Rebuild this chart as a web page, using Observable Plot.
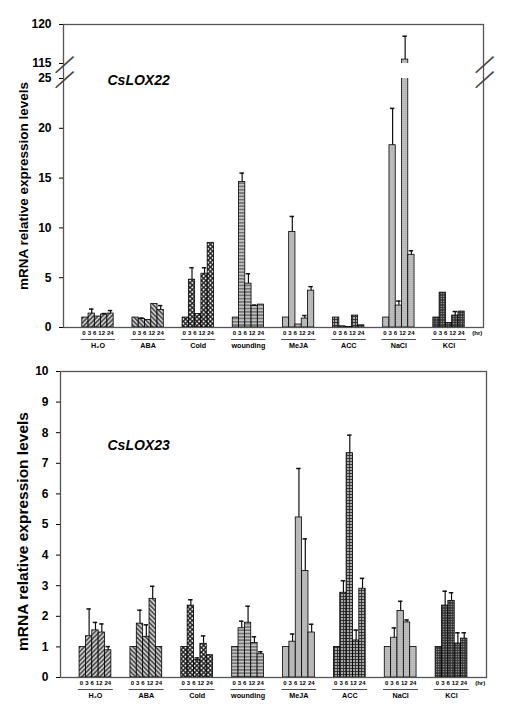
<!DOCTYPE html>
<html><head><meta charset="utf-8">
<script src="https://cdn.jsdelivr.net/npm/d3@7"></script>
<script src="https://cdn.jsdelivr.net/npm/@observablehq/plot@0.6"></script>
<style>
body{margin:0;background:#fff;font-family:"Liberation Sans",Arial,sans-serif;}
#chart svg{display:block}
</style></head><body><div id="chart"></div>
<script>
const treatments = ["H₂O","ABA","Cold","wounding","MeJA","ACC","NaCl","KCl"];
const times = ["0","3","6","12","24"];
const timeUnit = "(hr)";
const yLabel = "mRNA relative expression levels";

// CsLOX22 (means and upper SD) per treatment x time
const lox22Mean = [
  [1.0, 1.4, 1.1, 1.3, 1.4],
  [1.0, 0.85, 0.75, 2.35, 1.75],
  [1.0, 4.8, 1.35, 5.4, 8.5],
  [1.0, 14.6, 4.4, 2.15, 2.3],
  [1.0, 9.6, 0.3, 0.9, 3.7],
  [1.0, 0.12, 0.05, 1.2, 0.22],
  [1.0, 18.3, 2.2, 115.5, 7.3],
  [1.0, 3.5, 0.45, 1.2, 1.6]
];
const lox22Err = [
  [0, 0.45, 0, 0.1, 0.3],
  [0, 0.1, 0, 0, 0.45],
  [0, 1.2, 0, 0.6, 0],
  [0, 0.9, 1.0, 0.1, 0],
  [0, 1.55, 0, 0.3, 0.4],
  [0, 0, 0, 0, 0],
  [0, 3.7, 0.45, 3.0, 0.4],
  [0, 0, 0, 0.4, 0]
];
const lox22Ticks = [0, 5, 10, 15, 20, 25, 115, 120];
const lox22Breaks = [25, 115];

// CsLOX23
const lox23Mean = [
  [1.0, 1.35, 1.54, 1.47, 0.89],
  [1.0, 1.76, 1.33, 2.57, 1.0],
  [1.0, 2.35, 0.57, 1.1, 0.73],
  [1.0, 1.61, 1.79, 1.13, 0.76],
  [1.0, 1.17, 5.23, 3.48, 1.47],
  [1.0, 2.77, 7.33, 1.21, 2.9],
  [1.0, 1.3, 2.17, 1.8, 1.0],
  [1.0, 2.35, 2.5, 1.11, 1.27]
];
const lox23Err = [
  [0, 0.89, 0.26, 0.28, 0.12],
  [0, 0.44, 0.39, 0.41, 0],
  [0, 0.19, 0.07, 0.26, 0],
  [0, 0.23, 0.54, 0.2, 0.08],
  [0, 0.25, 1.6, 1.05, 0.27],
  [0, 0.39, 0.59, 0.34, 0.34],
  [0, 0.32, 0.32, 0.08, 0],
  [0, 0.47, 0.27, 0.35, 0.19]
];
const lox23Ticks = [0,1,2,3,4,5,6,7,8,9,10];

const STEP = 8; // 5 bars + gap (in bar units)
const FONT = "Liberation Sans, Arial, sans-serif";
const TIME_FS = 6;

function addPatterns(svg, pre) {
  const defs = d3.select(svg).insert("defs", ":first-child");
  const mk = (i, w, h, bg, draw, tr) => {
    const p = defs.append("pattern").attr("id", pre + i)
      .attr("patternUnits", "userSpaceOnUse").attr("width", w).attr("height", h);
    if (tr) p.attr("patternTransform", tr);
    p.append("rect").attr("width", w).attr("height", h).attr("fill", bg);
    if (draw) draw(p, w, h);
  };
  const vline = (p, w, h, c, sw) => p.append("line").attr("x1", w/2).attr("x2", w/2).attr("y1", 0).attr("y2", h).attr("stroke", c).attr("stroke-width", sw);
  const hline = (p, w, h, c, sw) => p.append("line").attr("x1", 0).attr("x2", w).attr("y1", h/2).attr("y2", h/2).attr("stroke", c).attr("stroke-width", sw);
  mk(0, 3.2, 3.2, "#c8c8c8", (p,w,h) => vline(p,w,h,"#2a2a2a",1.2), "rotate(45)");
  mk(1, 3.2, 3.2, "#c8c8c8", (p,w,h) => vline(p,w,h,"#2a2a2a",1.2), "rotate(-45)");
  mk(2, 3.2, 3.2, "#e6e6e6", (p,w,h) => { vline(p,w,h,"#1a1a1a",1.3); hline(p,w,h,"#1a1a1a",1.3); }, "rotate(45)");
  mk(3, 4, 3.3, "#c2c2c2", (p,w,h) => hline(p,w,h,"#333",0.9));
  mk(4, 4, 4, "#b8b8b8");
  mk(5, 3, 3, "#a8a8a8", (p,w,h) => { vline(p,w,h,"#2a2a2a",0.9); hline(p,w,h,"#2a2a2a",0.9); });
  mk(6, 2, 2, "#d2d2d2", (p) => p.append("circle").attr("cx",1).attr("cy",1).attr("r",0.5).attr("fill","#555"));
  mk(7, 2.5, 2.5, "#333", (p) => p.append("circle").attr("cx",1.25).attr("cy",1.25).attr("r",0.65).attr("fill","#c8c8c8"));
}

function panel(o) {
  const data = [];
  treatments.forEach((t, g) => times.forEach((h, i) => data.push({
    t, g, h, v: o.mean[g][i], e: o.err[g][i], x1: g * STEP + i, x2: g * STEP + i + 1
  })));
  const xDomain = [-3, (treatments.length - 1) * STEP + times.length + 3];
  const unitPx = (510 - o.ml - o.mr) / (xDomain[1] - xDomain[0]);
  const groupCenter = g => g * STEP + times.length / 2;
  // lay the time labels out as a run of text under each group (digit width 0.556em, gap 2px)
  const digitW = 0.556 * TIME_FS, gapW = 2;
  const widths = times.map(s => s.length * digitW);
  const runW = d3.sum(widths) + gapW * (times.length - 1);
  const offsets = [];
  let acc = -runW / 2;
  widths.forEach(w => { offsets.push((acc + w / 2) / unitPx); acc += w + gapW; });
  const tickLabel = new Map();
  treatments.forEach((t, g) => times.forEach((h, i) => tickLabel.set(groupCenter(g) + offsets[i], h)));
  tickLabel.set((treatments.length - 1) * STEP + times.length + 2, timeUnit);
  const groupLabel = new Map(treatments.map((t, g) => [groupCenter(g), t]));
  const withErr = data.filter(d => d.e > 0);

  const marks = [];
  treatments.forEach((t, g) => {
    marks.push(Plot.rect(data.filter(d => d.g === g), {
      x1: "x1", x2: "x2", y1: 0, y2: "v",
      fill: `url(#${o.pre}${g})`, stroke: "#000", strokeWidth: 0.8
    }));
  });
  if (o.breaks) {
    marks.push(Plot.rect([o.breaks], {y1: d => d[0], y2: d => d[1], fill: "white"}));
  }
  marks.push(
    Plot.ruleX(withErr, {x: d => d.x1 + 0.5, y1: "v", y2: d => d.v + d.e, stroke: "#111", strokeWidth: 1.2}),
    Plot.ruleY(withErr, {y: d => d.v + d.e, x1: d => d.x1 + 0.15, x2: d => d.x1 + 0.85, stroke: "#111", strokeWidth: 1.5}),
    Plot.frame({stroke: "#555", strokeWidth: 1.3}),
    Plot.axisY({ticks: o.ticks, tickSize: 4, tickPadding: 8, fontSize: 12, fontWeight: "bold", label: null}),
    Plot.axisX({ticks: [...tickLabel.keys()], tickFormat: d => tickLabel.get(d), tickSize: 0, tickPadding: 3.5, fontSize: TIME_FS, fontWeight: "bold", label: null}),
    Plot.axisX({ticks: [...groupLabel.keys()], tickFormat: d => groupLabel.get(d), tickSize: 0, tickPadding: 15.5, fontSize: 7.2, fontWeight: "bold", label: null}),
    Plot.ruleY(treatments.map((t, g) => g), {y: 0, x1: g => g * STEP - 0.2, x2: g => g * STEP + times.length + 0.3, dy: 12, stroke: "#222", strokeWidth: 0.8}),
    Plot.text([o.gene], {frameAnchor: "top-left", dx: o.geneDx, dy: o.geneDy, fontSize: 14, fontWeight: "bold", fontStyle: "italic", textAnchor: "start"}),
    Plot.text([yLabel], {frameAnchor: "left", textAnchor: "middle", rotate: -90, dx: o.labelDx, dy: o.labelDy, fontSize: o.labelSize, fontWeight: "bold"})
  );
  if (o.breaks) {
    for (const anchor of ["left", "right"]) {
      marks.push(Plot.text(o.breaks, {y: d => d, frameAnchor: anchor, textAnchor: "middle", text: () => "—", rotate: -42, fontSize: 24, fill: "#444"}));
    }
  }
  const svg = Plot.plot({
    width: 510, height: o.height,
    marginTop: o.mt, marginBottom: o.mb, marginLeft: o.ml, marginRight: o.mr,
    style: {fontFamily: FONT, color: "#000", background: "#fff", overflow: "visible"},
    x: {type: "linear", domain: xDomain},
    y: o.y,
    marks
  });
  addPatterns(svg, o.pre);
  return svg;
}

const topPanel = panel({
  pre: "a", mean: lox22Mean, err: lox22Err, gene: "CsLOX22", ticks: lox22Ticks, breaks: lox22Breaks,
  height: 358, mt: 24, mb: 31, ml: 63, mr: 27,
  y: {type: "linear", domain: [0, 25, 115, 120], range: [327, 78, 63, 24]},
  geneDx: 44, geneDy: 51, labelDx: -40, labelDy: 10, labelSize: 13.5
});
const bottomPanel = panel({
  pre: "b", mean: lox23Mean, err: lox23Err, gene: "CsLOX23", ticks: lox23Ticks,
  height: 349, mt: 13, mb: 30, ml: 60, mr: 24,
  y: {type: "linear", domain: [0, 10]},
  geneDx: 47, geneDy: 69, labelDx: -37, labelDy: 7, labelSize: 15.5
});
document.getElementById("chart").append(topPanel, bottomPanel);
</script></body></html>
